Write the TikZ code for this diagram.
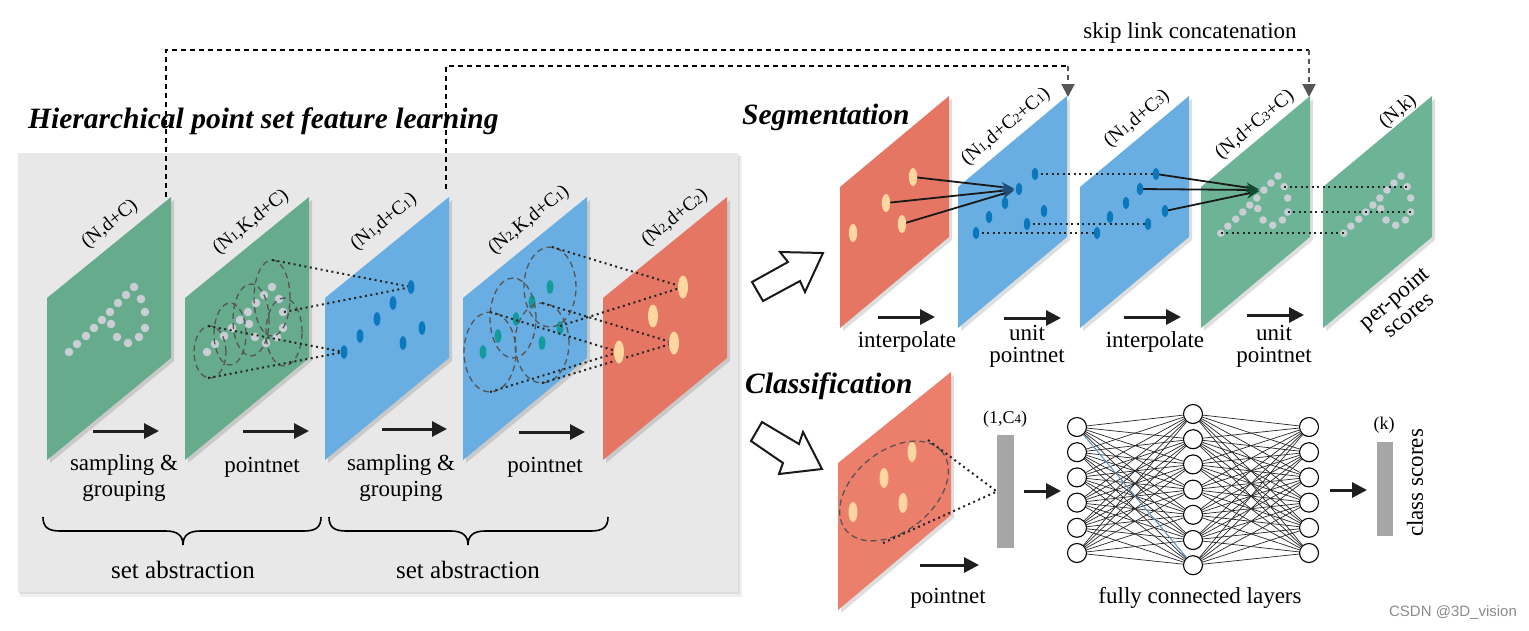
\documentclass[tikz,border=0pt]{standalone}
\usepackage{fontspec}
\setmainfont{Liberation Serif}
\newfontfamily\wmfont{Liberation Sans}
\usetikzlibrary{arrows.meta,calc}
\definecolor{pgreen}{HTML}{66AB8C}
\definecolor{pgreenb}{HTML}{6DB496}
\definecolor{pblue}{HTML}{68AEE2}
\definecolor{pred}{HTML}{E57663}
\definecolor{predb}{HTML}{EC7E6C}
\definecolor{dotgray}{HTML}{C9CED4}
\definecolor{dotblue}{HTML}{0B78BE}
\definecolor{dotteal}{HTML}{129A9C}
\definecolor{dotpeach}{HTML}{FFD6A0}
\definecolor{boxgray}{HTML}{E8E8E8}
\definecolor{bargray}{HTML}{A6A6A6}
\definecolor{dashgray}{HTML}{555555}
\definecolor{navytip}{HTML}{1F4E79}
\definecolor{greentip}{HTML}{0F4D33}
\definecolor{nnblue}{HTML}{6FA8DC}
\newcommand\sm[1]{{\fontsize{13}{13}\selectfont #1}}
\newcommand\handpts{69/352,77/344,86/336,94/328,102/320,110/312,118/303,126/295,134/287,141/299,145/312,145/328,139/337,128/343,117/337,111/324}
\newcommand\lplane[2]{%
  \fill[black,opacity=0.13] (#1+3,301) -- (#1+127,200) -- (#1+127,361) -- (#1+3,463) -- cycle;
  \fill[#2] (#1,298) -- (#1+124,197) -- (#1+124,358) -- (#1,460) -- cycle;}
\newcommand\splane[2]{%
  \fill[black,opacity=0.13] (#1+3,190) -- (#1+112,99) -- (#1+112,240) -- (#1+3,331) -- cycle;
  \fill[#2] (#1,187) -- (#1+109,96) -- (#1+109,237) -- (#1,328) -- cycle;}
\begin{document}
\begin{tikzpicture}[x=1pt,y=-1pt,
  txt/.style={font=\fontsize{23}{26}\selectfont, inner sep=0pt, align=center},
  lab/.style={font=\fontsize{19.5}{21}\selectfont, inner sep=0pt, rotate=39},
  ttl/.style={font=\fontsize{29.5}{31}\selectfont\bfseries\itshape, inner sep=0pt, anchor=base west},
  bigarrow/.style={line width=3pt, -{Triangle[length=15pt,width=15pt]}, draw=black!88},
  dotline/.style={line width=2pt, dash pattern=on 2pt off 3.5pt, draw=black!85},
  dashell/.style={line width=1.3pt, dash pattern=on 6pt off 4pt, draw=dashgray},
  skipline/.style={line width=2pt, dash pattern=on 5pt off 4pt, draw=black},
  skipdrop/.style={line width=2pt, dash pattern=on 5pt off 4pt, draw=dashgray, -{Triangle[length=13pt,width=13pt]}},
  hollow/.style={line width=2pt, fill=white, draw=black!90, line join=miter},
  nn/.style={circle, draw, line width=1.1pt, fill=white, minimum size=19pt, inner sep=0pt},
  nnline/.style={line width=0.7pt, draw=black!85},
  bar/.style={fill=bargray, inner sep=0pt},
  conv/.style={line width=1.8pt, draw=black!90, shorten >=5pt},
  gdot/.style={fill=dotgray},
  bdot/.style={fill=dotblue},
  tdot/.style={fill=dotteal},
  pdot/.style={fill=dotpeach}
]
\useasboundingbox (0,0) rectangle (1529,630);
\fill[white] (0,0) rectangle (1529,630);

% ---------- gray box ----------
\fill[black,opacity=0.06] (20,156) rectangle (742,597);
\fill[black,opacity=0.08] (19,155) rectangle (740,594);
\fill[boxgray] (18,153) rectangle (738,592);

% ---------- titles ----------
\node[ttl] (t1) at (28,128) {Hierarchical point set feature learning};
\node[ttl] (t2) at (742,124) {Segmentation};
\node[ttl] (t3) at (745,393) {Classification};

% ---------- left planes ----------
\lplane{47}{pgreen}
\lplane{185}{pgreen}
\lplane{325}{pblue}
\lplane{463}{pblue}
\lplane{603}{pred}

% plane 1 and 2 points
\foreach \px/\py in \handpts {\fill[gdot] (\px,\py) circle[radius=4.3pt];}
\begin{scope}[shift={(138,0)}]
\foreach \px/\py in \handpts {\fill[gdot] (\px,\py) circle[radius=4.3pt];}
\end{scope}
% plane 2 grouping circles
\draw[dashell] (210,352) ellipse[x radius=16pt, y radius=26pt];
\draw[dashell] (230,334) ellipse[x radius=16pt, y radius=31pt];
\draw[dashell] (251,320) ellipse[x radius=18pt, y radius=36pt];
\draw[dashell] (272,298) ellipse[x radius=18pt, y radius=38pt];
\draw[dashell] (284,332) ellipse[x radius=18pt, y radius=34pt];
\coordinate (e4t) at (272,260);
\coordinate (e5r) at (284,312);
\coordinate (e1t) at (208,326);
\coordinate (e1b) at (208,378);

% plane 3 points
\coordinate (p3a) at (411,287); \coordinate (p3b) at (393,303);
\coordinate (p3c) at (377,319); \coordinate (p3d) at (360,336);
\coordinate (p3e) at (344,352); \coordinate (p3f) at (403,343);
\coordinate (p3g) at (422,328);
\draw[dotline] (e4t) -- (p3a);
\draw[dotline] (e5r) -- (p3a);
\draw[dotline] (e1t) -- (p3e);
\draw[dotline] (e1b) -- (p3e);
\foreach \n in {a,b,c,d,e,f,g} {\fill[bdot] (p3\n) ellipse[x radius=3.4pt, y radius=6.8pt];}

% plane 4 points
\coordinate (p4a) at (550,287); \coordinate (p4b) at (532,302);
\coordinate (p4c) at (516,319); \coordinate (p4d) at (498,336);
\coordinate (p4e) at (483,352); \coordinate (p4f) at (542,343);
\coordinate (p4g) at (560,328);
\foreach \n in {a,b,c,d,e,f,g} {\fill[tdot] (p4\n) ellipse[x radius=3.4pt, y radius=6.8pt];}
\draw[dashell] (490,352) ellipse[x radius=26pt, y radius=40pt];
\draw[dashell] (513,318) ellipse[x radius=23pt, y radius=40pt];
\draw[dashell] (550,287) ellipse[x radius=26pt, y radius=40pt];
\draw[dashell] (542,343) ellipse[x radius=27pt, y radius=40pt];
\coordinate (f1t) at (490,312); \coordinate (f1b) at (490,392);
\coordinate (f3t) at (552,247); \coordinate (f3b) at (560,326);
\coordinate (f4t) at (542,303); \coordinate (f4b) at (542,383);

% plane 5 points
\coordinate (p5a) at (683,287); \coordinate (p5b) at (653,316);
\coordinate (p5c) at (674,343); \coordinate (p5d) at (619,352);
\draw[dotline] (f3t) -- (p5a);
\draw[dotline] (f3b) -- (p5a);
\draw[dotline] (f1t) -- (p5d);
\draw[dotline] (f1b) -- (p5d);
\draw[dotline] (f4t) -- (p5c);
\draw[dotline] (f4b) -- (p5c);
\foreach \n in {a,b,c,d} {\fill[pdot] (p5\n) ellipse[x radius=5pt, y radius=11.5pt];}

% labels
\node[lab] (l1) at (110,224) {(N,d+C)};
\node[lab] (l2) at (251,222) {(N\sm1,K,d+C)};
\node[lab] (l3) at (384,222) {(N\sm1,d+C\sm1)};
\node[lab] (l4) at (529,220) {(N\sm2,K,d+C\sm1)};
\node[lab] (l5) at (675,218) {(N\sm2,d+C\sm2)};

% arrows and texts
\coordinate (a1s) at (93,431); \coordinate (a1e) at (159,431);
\coordinate (a2s) at (243,431); \coordinate (a2e) at (309,431);
\coordinate (a3s) at (382,429); \coordinate (a3e) at (447,429);
\coordinate (a4s) at (519,432); \coordinate (a4e) at (585,432);
\draw[bigarrow] (a1s) -- (a1e);
\draw[bigarrow] (a2s) -- (a2e);
\draw[bigarrow] (a3s) -- (a3e);
\draw[bigarrow] (a4s) -- (a4e);
\node[txt] (sg1) at (124,478) {sampling \&\\grouping};
\node[txt] (pn1) at (262,467) {pointnet};
\node[txt] (sg2) at (401,478) {sampling \&\\grouping};
\node[txt] (pn2) at (545,467) {pointnet};

% braces
\draw[line width=1.6pt] (43,517) .. controls (43,527) and (48,531) .. (60,531) -- (166,531)
   .. controls (178,531) and (183,536) .. (183,545) .. controls (183,536) and (188,531) .. (200,531)
   -- (304,531) .. controls (316,531) and (321,527) .. (321,517);
\draw[line width=1.6pt] (329,517) .. controls (329,527) and (334,531) .. (346,531) -- (451,531)
   .. controls (463,531) and (468,536) .. (468,545) .. controls (468,536) and (473,531) .. (485,531)
   -- (591,531) .. controls (603,531) and (608,527) .. (608,517);
\node[txt, font=\fontsize{25}{27}\selectfont] (sa1) at (183,570) {set abstraction};
\node[txt, font=\fontsize{25}{27}\selectfont] (sa2) at (468,570) {set abstraction};

% ---------- skip links ----------
\coordinate (k1s) at (166,197);
\coordinate (k1c) at (1309,50);
\coordinate (k1e) at (1309,97);
\coordinate (k2s) at (446,189);
\coordinate (k2c) at (1068,66);
\coordinate (k2e) at (1068,97);
\draw[skipline] (k1s) |- (k1c);
\draw[skipline] (k2s) |- (k2c);
\draw[skipdrop] (k1c) -- (k1e);
\draw[skipdrop] (k2c) -- (k2e);
\node[font=\fontsize{23}{25}\selectfont, inner sep=0pt] (skt) at (1190,33) {skip link concatenation};

% ---------- hollow arrows ----------
\draw[hollow] (752,282) -- (788,262) -- (780,252) -- (823,253) -- (805,292) -- (800,281) -- (763,301) -- cycle;
\draw[hollow] (762,422) -- (799,444) -- (803,432) -- (822,469) -- (779,474) -- (783,463) -- (751,441) -- cycle;

% ---------- segmentation ----------
\splane{840}{pred}
\splane{958}{pblue}
\splane{1080}{pblue}
\splane{1201}{pgreenb}
\splane{1323}{pgreenb}

\coordinate (r1) at (913,177); \coordinate (r2) at (886,203);
\coordinate (r3) at (902,224); \coordinate (r4) at (853,233);
\coordinate (s1a) at (1035,174); \coordinate (s1b) at (1019,189);
\coordinate (s1c) at (1005,203); \coordinate (s1d) at (989,217);
\coordinate (s1e) at (976,233); \coordinate (s1f) at (1044,211);
\coordinate (s1g) at (1027,224);
\coordinate (s2a) at (1156,174); \coordinate (s2b) at (1140,189);
\coordinate (s2c) at (1126,203); \coordinate (s2d) at (1110,217);
\coordinate (s2e) at (1097,233); \coordinate (s2f) at (1165,211);
\coordinate (s2g) at (1148,224);
\begin{scope}[shift={(1278,176)},scale=0.88,shift={(-134,-287)}]
\foreach \px/\py in \handpts {\fill[gdot] (\px,\py) circle[radius=4.3pt];}
\coordinate (g3a) at (141,299); \coordinate (g3b) at (145,328);
\coordinate (g3c) at (69,352); \coordinate (g3t) at (118,303);
\end{scope}
\begin{scope}[shift={(1401,176)},scale=0.88,shift={(-134,-287)}]
\foreach \px/\py in \handpts {\fill[gdot] (\px,\py) circle[radius=4.3pt];}
\coordinate (g4a) at (141,299); \coordinate (g4b) at (145,328);
\coordinate (g4c) at (69,352);
\end{scope}

\draw[dotline] (s1a) -- (s2a);
\draw[dotline] (s1g) -- (s2g);
\draw[dotline] (s1e) -- (s2e);
\draw[dotline] (g3a) -- (g4a);
\draw[dotline] (g3b) -- (g4b);
\draw[dotline] (g3c) -- (g4c);

\foreach \n in {1,2,3} {\draw[conv, -{Stealth[length=13pt,width=10pt,color=navytip]}] (r\n) -- (s1b);}
\foreach \n in {a,b,f} {\draw[conv, -{Stealth[length=13pt,width=10pt,color=greentip]}] (s2\n) -- (g3t);}

\foreach \n in {1,2,3,4} {\fill[pdot] (r\n) ellipse[x radius=4.2pt, y radius=9pt];}
\foreach \n in {a,b,c,d,e,f,g} {\fill[bdot] (s1\n) ellipse[x radius=3.2pt, y radius=6.3pt];
  \fill[bdot] (s2\n) ellipse[x radius=3.2pt, y radius=6.3pt];}

\node[lab, rotate=1] (m1) at (1006,127) {(N\sm1,d+C\sm2+C\sm1)};
\node[lab, rotate=1] (m2) at (1137,119) {(N\sm1,d+C\sm3)};
\node[lab, rotate=1] (m3) at (1255,125) {(N,d+C\sm3+C)};
\node[lab, rotate=1] (m4) at (1398,112) {(N,k)};
\node[txt, rotate=40, font=\fontsize{23}{22}\selectfont] (pps) at (1401,306) {per-point\\scores};

\coordinate (b1s) at (878,317); \coordinate (b1e) at (935,317);
\coordinate (b2s) at (1004,318); \coordinate (b2e) at (1061,318);
\coordinate (b3s) at (1124,317); \coordinate (b3e) at (1181,317);
\coordinate (b4s) at (1247,315); \coordinate (b4e) at (1304,315);
\draw[bigarrow] (b1s) -- (b1e);
\draw[bigarrow] (b2s) -- (b2e);
\draw[bigarrow] (b3s) -- (b3e);
\draw[bigarrow] (b4s) -- (b4e);
\node[txt] (ip1) at (907,342) {interpolate};
\node[txt, font=\fontsize{23}{22}\selectfont] (up1) at (1027,346) {unit\\pointnet};
\node[txt] (ip2) at (1155,342) {interpolate};
\node[txt, font=\fontsize{23}{22}\selectfont] (up2) at (1274,346) {unit\\pointnet};

% ---------- classification ----------
\fill[black,opacity=0.13] (841,466) -- (954,375) -- (954,518) -- (841,613) -- cycle;
\fill[predb] (838,463) -- (951,372) -- (951,515) -- (838,610) -- cycle;
\coordinate (c1) at (912,452); \coordinate (c2) at (884,478);
\coordinate (c3) at (903,503); \coordinate (c4) at (853,512);
\foreach \n in {1,2,3,4} {\fill[pdot] (c\n) ellipse[x radius=4.5pt, y radius=10pt];}
\draw[dashell, rotate around={39:(894,491)}] (894,491) ellipse[x radius=62pt, y radius=40pt];
\coordinate (ct) at (928,440);
\coordinate (cb) at (883,543);
\node[bar, minimum width=17pt, minimum height=113pt] (bar1) at (1005.5,491.5) {};
\draw[dotline] (ct) -- (bar1.west);
\draw[dotline] (cb) -- (bar1.west);
\node[font=\fontsize{18}{20}\selectfont, inner sep=0pt] (c4l) at (1005,419) {(1,C\sm4)};

\coordinate (d1s) at (920,565); \coordinate (d1e) at (979,565);
\draw[bigarrow] (d1s) -- (d1e);
\node[txt] (pn3) at (948,598) {pointnet};

\coordinate (d2s) at (1024,491); \coordinate (d2e) at (1061,491);
\draw[bigarrow] (d2s) -- (d2e);

% neural network
\foreach \i in {1,...,6} {\node[nn] (na\i) at (1077,{427+25.2*(\i-1)}) {};}
\foreach \i in {1,...,7} {\node[nn] (nb\i) at (1193,{414+25.2*(\i-1)}) {};}
\foreach \i in {1,...,6} {\node[nn] (nc\i) at (1309,{427+25.2*(\i-1)}) {};}
\foreach \i in {1,...,6} {\foreach \j in {1,...,7} {\draw[nnline] (na\i) -- (nb\j); \draw[nnline] (nb\j) -- (nc\i);}}
\draw[line width=0.8pt, draw=nnblue] (na1) -- (nb7);
\node[txt] (fcl) at (1200,598) {fully connected layers};

\coordinate (d3s) at (1330,490); \coordinate (d3e) at (1367,490);
\draw[bigarrow] (d3s) -- (d3e);
\node[bar, minimum width=16pt, minimum height=94pt] (bar2) at (1385,489) {};
\node[font=\fontsize{18}{20}\selectfont, inner sep=0pt] (kl) at (1384,425) {(k)};
\node[txt, rotate=90] (cls) at (1415,483) {class scores};

\node[font=\wmfont\fontsize{15}{17}\selectfont, text=black!45, inner sep=0pt] (wm) at (1453,613) {CSDN @3D\_vision};
\end{tikzpicture}
\end{document}
